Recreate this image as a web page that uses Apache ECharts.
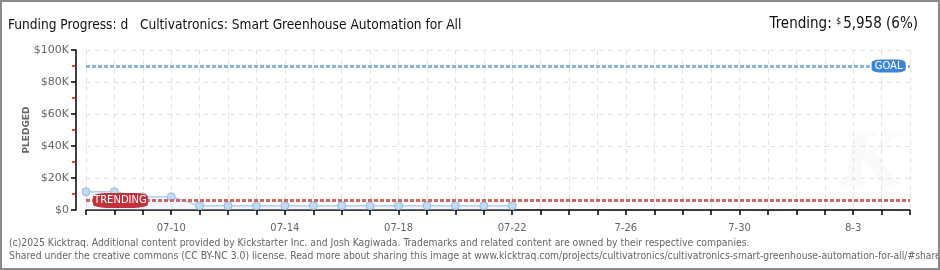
<!DOCTYPE html>
<html><head><meta charset="utf-8">
<script src="https://cdn.jsdelivr.net/npm/echarts@6/dist/echarts.min.js"></script>
<style>html,body{margin:0;padding:0;background:#fff}#c{width:940px;height:270px;box-sizing:border-box;border:2px solid #8a8a8a}</style>
</head><body><div id="c"></div>
<script>
const dates = ['07-07','07-08','07-09','07-10','07-11','07-12','07-13','07-14','07-15','07-16','07-17','07-18','07-19','07-20','07-21','07-22','07-23','07-24','07-25','7-26','07-27','07-28','07-29','7-30','07-31','08-01','08-02','8-3','08-04','08-05'];
const pledged = [11400,11400,8300,8300,2700,2700,2700,2700,2700,2700,2700,2700,2700,2700,2700,2700];
const goal = 90000;
const trending = 5958;
const yTicks = ['$0','$20K','$40K','$60K','$80K','$100K'];

const chart = echarts.init(document.getElementById('c'), null, {renderer:'canvas'});
const lblFont = 'DejaVu Sans';
const condFont = 'DejaVu Sans Condensed, DejaVu Sans';
chart.setOption({
  animation:false,
  graphic:[
    {type:'text', left:838, top:128, z:0, silent:true,
     style:{text:'K', fontFamily:'DejaVu Serif', fontStyle:'italic', fontWeight:'bold', fontSize:72, fill:'#fafafa'}}
  ],
  title:[
    {text:'Funding Progress: d   Cultivatronics: Smart Greenhouse Automation for All', left:1, top:11,
     textStyle:{fontFamily:condFont, fontWeight:'normal', fontSize:13.6, color:'#111'}},
    {text:'Trending: {s|$}5,958 (6%)', right:15, top:10,
     textStyle:{fontFamily:condFont, fontWeight:'normal', fontSize:15, color:'#111',
       rich:{s:{fontSize:9, verticalAlign:'top', color:'#111', fontFamily:condFont, padding:[0,2,6,0]}}}},
    {text:'(c)2025 Kicktraq. Additional content provided by Kickstarter Inc. and Josh Kagiwada. Trademarks and related content are owned by their respective companies.\nShared under the creative commons (CC BY-NC 3.0) license. Read more about sharing this image at www.kicktraq.com/projects/cultivatronics/cultivatronics-smart-greenhouse-automation-for-all/#share',
     left:2, top:230, textStyle:{fontFamily:condFont, fontWeight:'normal', fontSize:10.3, color:'#666', lineHeight:13}}
  ],
  grid:{left:84, right:28, top:48, bottom:58},
  xAxis:{type:'category', data:dates, boundaryGap:false, offset:10,
    axisLine:{lineStyle:{color:'#000', width:1.5}},
    axisTick:{interval:0, length:5, lineStyle:{color:'#000', width:1.5}},
    axisLabel:{interval:(i)=>i%4===3, color:'#666', fontFamily:lblFont, fontSize:10, margin:3},
    splitLine:{show:true, interval:0, lineStyle:{color:'#e2e2e2', type:[5,4]}}
  },
  yAxis:{type:'value', min:0, max:100000, interval:20000, offset:10,
    name:'PLEDGED', nameLocation:'middle', nameGap:45, nameRotate:90, nameMoveOverlap:false,
    nameTextStyle:{color:'#666', fontFamily:lblFont, fontSize:9, fontWeight:'bold'},
    axisLine:{show:true, lineStyle:{color:'#000', width:1.5}},
    axisTick:{show:true, length:5, lineStyle:{color:'#000', width:1.5}},
    minorTick:{show:true, splitNumber:2, length:4, lineStyle:{color:'#e00', width:1.5}},
    axisLabel:{formatter:(v)=>yTicks[v/20000], color:'#666', fontFamily:lblFont, fontSize:11, margin:7},
    splitLine:{show:true, lineStyle:{color:'#e2e2e2', type:[5,4]}}
  },
  series:[
    {type:'line', data:pledged, symbol:'circle', symbolSize:8, z:3,
     lineStyle:{color:'#b4d0ee', width:1.5},
     itemStyle:{color:'#c2dbf5', borderColor:'#93b8e0', borderWidth:1},
     areaStyle:{color:'rgba(205,224,246,0.4)'},
     markLine:{silent:true, symbol:'none', label:{show:false},
       data:[
         {yAxis:goal, lineStyle:{color:'#8fb2dc', width:3, type:[4,2]}},
         {yAxis:trending, lineStyle:{color:'#d06868', width:3, type:[4,2]}}
       ]},
     markPoint:{silent:true,
       data:[
         {coord:[1, trending], symbol:'roundRect', symbolSize:[55,15], symbolOffset:[6,0],
          itemStyle:{color:'#c0323c'}, label:{show:true, formatter:'TRENDING', color:'#fff', fontFamily:lblFont, fontSize:10}},
         {coord:[28, goal], symbol:'roundRect', symbolSize:[34,13], symbolOffset:[7,0],
          itemStyle:{color:'#3b86d6'}, label:{show:true, formatter:'GOAL', color:'#fff', fontFamily:lblFont, fontSize:10}}
       ]}
    }
  ]
});
</script></body></html>
